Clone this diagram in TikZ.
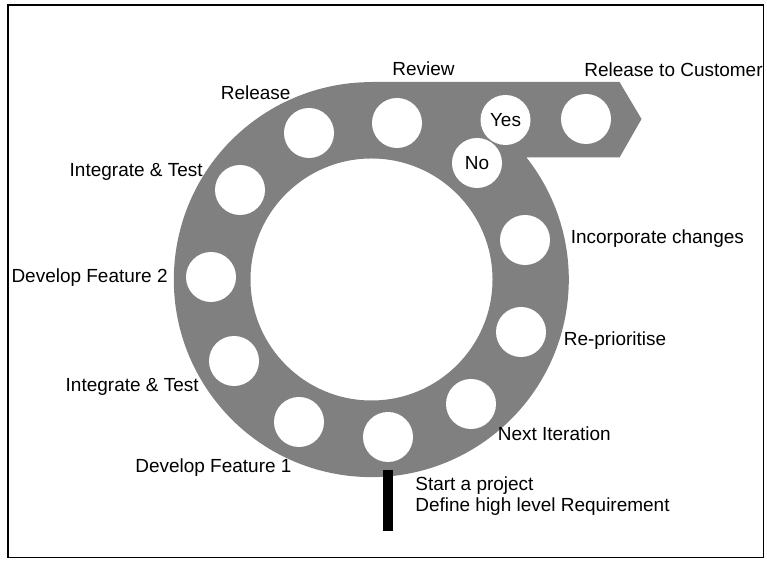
\documentclass[tikz,border=0pt]{standalone}
\usepackage{fontspec}
\setmainfont{Liberation Sans}

\begin{document}
\begin{tikzpicture}[
    hole/.style={circle, fill=white, minimum size=1cm, inner sep=0pt},
    lbl/.style={inner sep=0pt, font=\fontsize{10.8}{12}\selectfont}
]
    \useasboundingbox (0,0) rectangle (15.34,11.24);
    \draw[line width=1.1pt] (0.16,0.09) rectangle (15.27,11.14);

    \coordinate (ctr) at (7.43,5.65);
    \fill[gray, even odd rule] (ctr) ++(90:3.95) -- (12.39,9.60) -- (12.83,8.86) -- (12.39,8.09) -- (10.53,8.09)
        arc[start angle=38.2, end angle=-270, radius=3.95] -- cycle
        (ctr) circle (2.42);

    \node[hole] (start) at (7.76,2.50) {};
    \node[hole] (feat1) at (5.98,2.80) {};
    \node[hole] (test1) at (4.68,4.02) {};
    \node[hole] (feat2) at (4.22,5.70) {};
    \node[hole] (test2) at (4.80,7.44) {};
    \node[hole] (rel) at (6.18,8.58) {};
    \node[hole] (review) at (7.94,8.78) {};
    \node[hole, lbl] (no) at (9.54,7.98) {No};
    \node[hole, lbl] (yes) at (10.11,8.84) {Yes};
    \node[hole] (cust) at (11.72,8.86) {};
    \node[hole] (incorp) at (10.50,6.44) {};
    \node[hole] (reprio) at (10.42,4.60) {};
    \node[hole] (next) at (9.42,3.16) {};

    \node[lbl, anchor=base west] (reviewtxt) at (7.84,9.72) {Review};
    \node[lbl, anchor=base west] (custtxt) at (11.68,9.70) {Release to Customer};
    \node[lbl, anchor=base west] (reltxt) at (4.41,9.24) {Release};
    \node[lbl, anchor=base east] (test2txt) at (4.06,7.70) {Integrate \& Test};
    \node[lbl, anchor=base east] (feat2txt) at (3.36,5.58) {Develop Feature 2};
    \node[lbl, anchor=base east] (test1txt) at (3.98,3.40) {Integrate \& Test};
    \node[lbl, anchor=base west] (feat1txt) at (2.70,1.78) {Develop Feature 1};
    \node[lbl, anchor=base west] (nexttxt) at (9.95,2.43) {Next Iteration};
    \node[lbl, anchor=base west] (repriotxt) at (11.27,4.33) {Re-prioritise};
    \node[lbl, anchor=base west] (incorptxt) at (11.41,6.36) {Incorporate changes};
    \node[lbl, anchor=north west, align=left] (starttxt) at (8.30,1.71) {Start a project\\Define high level Requirement};

    \coordinate (bartop) at (7.75,1.84);
    \coordinate (barend) at (7.75,0.62);
    \draw[line width=0.2cm] (bartop) -- (barend);
\end{tikzpicture}
\end{document}
